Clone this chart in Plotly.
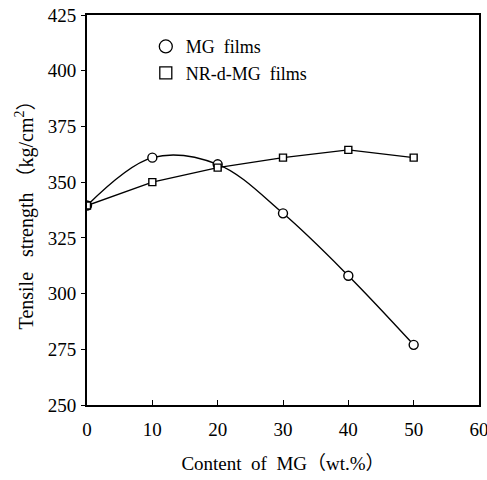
import plotly.graph_objects as go

content = [0, 10, 20, 30, 40, 50]
mg_films = [339.5, 361, 358, 336, 308, 277]
nr_d_mg_films = [339.5, 350, 356.5, 361, 364.5, 361]
x_ticks = [0, 10, 20, 30, 40, 50, 60]
y_ticks = [250, 275, 300, 325, 350, 375, 400, 425]

FONT = "Liberation Serif, Noto Sans CJK SC"

fig = go.Figure()
fig.add_trace(go.Scatter(
    x=content, y=mg_films, mode="lines+markers", showlegend=False,
    line=dict(color="black", width=1.4, shape="spline", smoothing=1.0),
    marker=dict(symbol="circle", size=9, color="white", line=dict(color="black", width=1.4)),
))
fig.add_trace(go.Scatter(
    x=content, y=nr_d_mg_films, mode="lines+markers", showlegend=False,
    line=dict(color="black", width=1.4),
    marker=dict(symbol="square", size=7, color="white", line=dict(color="black", width=1.4)),
))
# legend entries
fig.add_trace(go.Scatter(
    x=[None], y=[None], mode="markers", name="MG\u00a0\u00a0films",
    marker=dict(symbol="circle", size=13, color="white", line=dict(color="black", width=1.3)),
))
fig.add_trace(go.Scatter(
    x=[None], y=[None], mode="markers", name="NR-d-MG\u00a0\u00a0films",
    marker=dict(symbol="square", size=12, color="white", line=dict(color="black", width=1.3)),
))

fig.update_layout(
    width=487, height=480,
    margin=dict(l=87, r=8, t=15, b=75),
    paper_bgcolor="white", plot_bgcolor="white",
    font=dict(family=FONT, size=19, color="black"),
    showlegend=True,
    legend=dict(x=0.15, y=0.966, xanchor="left", yanchor="top",
                bgcolor="rgba(0,0,0,0)", font=dict(family=FONT, size=18),
                tracegroupgap=0, itemsizing="trace"),
    xaxis=dict(
        range=[0, 60], tickvals=x_ticks, ticktext=[str(v) for v in x_ticks],
        ticks="inside", ticklen=5, tickwidth=1.3, tickcolor="black",
        showline=True, linecolor="black", linewidth=1.8, mirror=True,
        showgrid=False, zeroline=False, automargin=False,
        ticklabelstandoff=6, ticklabeloverflow="allow",
        tickfont=dict(family=FONT, size=19),
        title=dict(text="Content\u00a0\u00a0of\u00a0\u00a0MG\uff08wt.%\uff09", font=dict(family=FONT, size=19), standoff=18),
    ),
    yaxis=dict(
        range=[250, 425], tickvals=y_ticks, ticktext=[str(v) for v in y_ticks],
        ticks="outside", ticklen=4, tickwidth=1.3, tickcolor="black",
        showline=True, linecolor="black", linewidth=1.8, mirror=True,
        showgrid=False, zeroline=False, automargin=False,
        ticklabelstandoff=1, ticklabeloverflow="allow",
        tickfont=dict(family=FONT, size=19),
        title=dict(text="Tensile\u00a0\u00a0\u00a0strength\u00a0\uff08kg/cm<sup>2</sup>\uff09", font=dict(family=FONT, size=20), standoff=9),
    ),
)

fig.write_html("out.html")
